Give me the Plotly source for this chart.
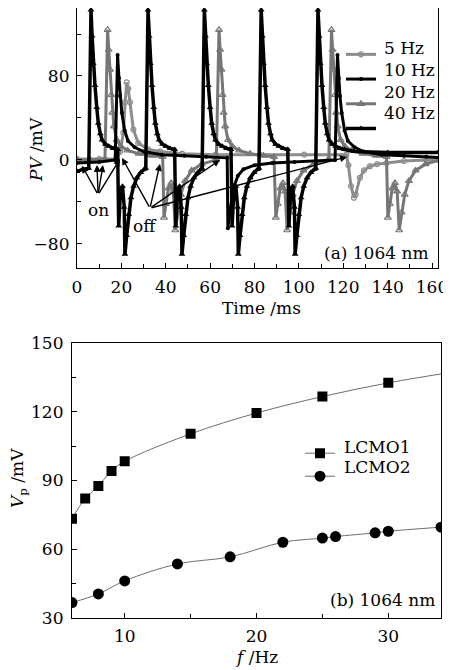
import plotly.graph_objects as go

# ---------------- Panel (a): photovoltage transients ----------------
# 40 Hz
ON40_T = [6.3, 32.0, 57.4, 83.0, 108.6]
OFF40_T = [18.8, 44.5, 69.9, 95.5]
SPIKE40_DT = [-1.0, 0, 0.5, 1.0, 1.8, 2.6, 3.3, 4.2, 5.0, 6.5, 8.0, 10.0, 12.0]
SPIKE40_V = [-8, 143, 118, 92, 71, 50, 35, 25, 19, 15, 13, 11, 10]
DIP40_DT = [0, 0.8, 1.7, 2.5, 2.8, 3.6, 4.5, 5.5, 6.7, 8.2, 9.9, 11.5]
DIP40_V = [-63, -30, -25, -45, -90, -72, -52, -36, -25, -17, -12, -9]
LEAD40_T, LEAD40_V = [0, 2.5], [-11, -9]
TAIL40_T, TAIL40_V = [125, 140, 162.7], [8, 7, 7]

# 20 Hz
ON20_T = [13.8, 64.0, 114.7]
OFF20_T = [39.2, 89.6, 140.1]
SPIKE20_DT = [-1.2, 0, 0.5, 1.1, 1.6, 2.1, 2.8, 4.1, 6.0, 9.0, 14.0, 20.0, 24.8]
SPIKE20_V = [1, 124, 105, 86, 62, 45, 32, 19, 13, 9, 6, 4, 3]
DIP20_DT = [0, 0.9, 2.0, 3.2, 4.2, 5.1, 6.2, 7.6, 9.5, 12.5, 17.0, 23.5]
DIP20_V = [-55, -42, -27, -22, -30, -67, -50, -33, -20, -10, -4, 0]
LEAD20_T, LEAD20_V = [0, 6], [0, 0]
TAIL20_T, TAIL20_V = [], []

# 10 Hz
ON10_T = [18.3, 117.4]
OFF10_T = [68.0]
SPIKE10_DT = [-1.1, 0, 0.6, 1.1, 1.9, 3.2, 4.7, 7.7, 11.7, 20.0, 30.0, 40.0, 49.4]
SPIKE10_V = [0, 100, 78, 61, 45, 28, 18, 12, 8, 5, 4, 3, 2]
DIP10_DT = [0, 0.8, 1.8, 3.0, 4.5, 7.0, 12.0, 20.0, 30.0, 40.0, 48.0]
DIP10_V = [-65, -52, -36, -24, -15, -9, -5, -3, -2, -1, 0]
LEAD10_T, LEAD10_V = [0, 10], [-3, -2]
TAIL10_T, TAIL10_V = [], []

# 5 Hz
ON5_T = [22.4]
OFF5_T = [122.3]
SPIKE5_DT = [-4.5, -2.9, -1.5, -0.7, 0, 0.7, 1.5, 3.0, 5.2, 9.7, 15.0, 25.0, 40.0, 60.0, 80.0, 99.0]
SPIKE5_V = [1, 8, 26, 55, 74, 68, 55, 29, 16, 10, 8, 6, 5, 5, 5, 5]
DIP5_DT = [0, 1.2, 2.5, 3.3, 5.2, 7.0, 9.7, 13.0, 17.2, 25.0, 35.0]
DIP5_V = [-5, -25, -36, -33, -17, -10, -6, -4, -3, -1, 0]
LEAD5_T, LEAD5_V = [0, 10], [1, 1]
TAIL5_T, TAIL5_V = [162.7], [0]

SERIES_A = ["5 Hz", "10 Hz", "20 Hz", "40 Hz"]

# ---------------- Panel (b): peak voltage vs frequency ----------------
F1 = [6, 7, 8, 9, 10, 15, 20, 25, 30, 35]
VP1 = [73.3, 82.1, 87.6, 94.2, 98.4, 110.4, 119.5, 126.7, 132.7, 137.5]
F2 = [6, 8, 10, 14, 18, 22, 25, 26, 29, 30, 34]
VP2 = [36.6, 40.4, 46.1, 53.5, 56.6, 63.0, 64.8, 65.5, 67.1, 67.8, 69.6]
SERIES_B = ["LCMO1", "LCMO2"]


def assemble(lead_t, lead_v, on_t, sp_dt, sp_v, off_t, dp_dt, dp_v, tail_t, tail_v):
    events = [(t, sp_dt, sp_v) for t in on_t] + [(t, dp_dt, dp_v) for t in off_t]
    events.sort(key=lambda e: e[0])
    ts, vs = list(lead_t), list(lead_v)
    for t0, dts, vals in events:
        for dt, v in zip(dts, vals):
            ts.append(round(t0 + dt, 3))
            vs.append(v)
    ts += list(tail_t)
    vs += list(tail_v)
    return ts, vs


t5, v5 = assemble(LEAD5_T, LEAD5_V, ON5_T, SPIKE5_DT, SPIKE5_V, OFF5_T, DIP5_DT, DIP5_V, TAIL5_T, TAIL5_V)
t10, v10 = assemble(LEAD10_T, LEAD10_V, ON10_T, SPIKE10_DT, SPIKE10_V, OFF10_T, DIP10_DT, DIP10_V, TAIL10_T, TAIL10_V)
t20, v20 = assemble(LEAD20_T, LEAD20_V, ON20_T, SPIKE20_DT, SPIKE20_V, OFF20_T, DIP20_DT, DIP20_V, TAIL20_T, TAIL20_V)
t40, v40 = assemble(LEAD40_T, LEAD40_V, ON40_T, SPIKE40_DT, SPIKE40_V, OFF40_T, DIP40_DT, DIP40_V, TAIL40_T, TAIL40_V)

FONT = "DejaVu Serif"
FS = 17
OFF = 8  # the page body has an 8 px default margin
W, H = 451 - OFF, 670 - OFF


def px(x):
    return min(1.0, max(0.0, (x - OFF) / W))


def py(y):
    return min(1.0, max(0.0, 1 - (y - OFF) / H))


fig = go.Figure()

GRAY5 = "#8c8c8c"
GRAY20 = "#767676"
fig.add_trace(go.Scatter(x=t5, y=v5, name=" ", mode="lines+markers", legendrank=1,
                         line=dict(color=GRAY5, width=3),
                         marker=dict(symbol="circle-open", size=5, color=GRAY5, line=dict(width=1.2)),
                         xaxis="x", yaxis="y", legend="legend"))
fig.add_trace(go.Scatter(x=t20, y=v20, name=" ", mode="lines+markers", legendrank=3,
                         line=dict(color=GRAY20, width=3),
                         marker=dict(symbol="triangle-up-open", size=6, color=GRAY20, line=dict(width=1.2)),
                         xaxis="x", yaxis="y", legend="legend"))
fig.add_trace(go.Scatter(x=t10, y=v10, name=" ", mode="lines+markers", legendrank=2,
                         line=dict(color="black", width=3),
                         marker=dict(symbol="circle", size=4, color="black"),
                         xaxis="x", yaxis="y", legend="legend"))
fig.add_trace(go.Scatter(x=t40, y=v40, name=" ", mode="lines+markers", legendrank=4,
                         line=dict(color="black", width=3.5),
                         marker=dict(symbol="triangle-up", size=6, color="black"),
                         xaxis="x", yaxis="y", legend="legend"))

fig.add_trace(go.Scatter(x=F1, y=VP1, name=" ", mode="lines+markers", line_shape="spline",
                         line=dict(color="#6e6e6e", width=1),
                         marker=dict(symbol="square", size=10, color="black"),
                         xaxis="x2", yaxis="y2", legend="legend2"))
fig.add_trace(go.Scatter(x=F2, y=VP2, name=" ", mode="lines+markers", line_shape="spline",
                         line=dict(color="#6e6e6e", width=1),
                         marker=dict(symbol="circle", size=11, color="black"),
                         xaxis="x2", yaxis="y2", legend="legend2"))

axis_common = dict(showline=True, linecolor="black", linewidth=1.2, mirror=True, showgrid=False,
                   zeroline=False, ticks="inside", ticklen=5, tickcolor="black", tickwidth=1.2,
                   automargin=False, tickfont=dict(family=FONT, size=FS, color="black"))

fig.update_layout(
    template="none",
    width=W, height=H, margin=dict(l=0, r=0, t=0, b=0, pad=0),
    paper_bgcolor="white", plot_bgcolor="white",
    font=dict(family=FONT, size=FS, color="black"),
    xaxis=dict(domain=[px(77), px(438)], range=[0, 162.7], anchor="y", tickmode="linear", tick0=0, dtick=20,
               minor=dict(dtick=10, ticks="inside", ticklen=4, tickcolor="black", showgrid=False),
               ticklabelstandoff=3, **axis_common),
    yaxis=dict(domain=[py(268), py(8)], range=[-103, 144.8], anchor="x", tickmode="linear", tick0=0, dtick=80,
               minor=dict(dtick=40, ticks="inside", ticklen=4, tickcolor="black", showgrid=False),
               ticklabelstandoff=3, **axis_common),
    xaxis2=dict(domain=[px(72), px(441)], range=[6, 34], anchor="y2", tickmode="linear", tick0=0, dtick=10,
                minor=dict(dtick=5, ticks="inside", ticklen=4, tickcolor="black", showgrid=False),
                ticklabelstandoff=3, **axis_common),
    yaxis2=dict(domain=[py(617.7), py(343.3)], range=[30, 150], anchor="x2", tickmode="linear", tick0=0, dtick=30,
                minor=dict(dtick=15, ticks="inside", ticklen=4, tickcolor="black", showgrid=False),
                ticklabelstandoff=4, **axis_common),
    legend=dict(x=px(341), y=py(37), xanchor="left", yanchor="top", bgcolor="rgba(0,0,0,0)",
                font=dict(family=FONT, size=16.7), tracegroupgap=0, itemwidth=30),
    legend2=dict(x=px(300), y=py(436.7), xanchor="left", yanchor="top", bgcolor="rgba(0,0,0,0)",
                 font=dict(family=FONT, size=15.4), tracegroupgap=0, itemwidth=30),
)

ann = []
# axis titles
ann.append(dict(text="Time /ms", x=px(261), y=py(308), xref="paper", yref="paper", showarrow=False,
                xanchor="center", yanchor="middle"))
ann.append(dict(text="<i>PV</i> /mV", x=px(36), y=py(150), xref="paper", yref="paper", showarrow=False,
                textangle=-90, xanchor="center", yanchor="middle"))
ann.append(dict(text="<i>f</i> /Hz", x=px(256.7), y=py(656.7), xref="paper", yref="paper",
                showarrow=False, xanchor="center", yanchor="middle"))
ann.append(dict(text="<i>V</i><sub>p</sub> /mV", x=px(18), y=py(478), xref="paper", yref="paper",
                showarrow=False, textangle=-90, xanchor="center", yanchor="middle"))
# panel labels
ann.append(dict(text="(a) 1064 nm", x=px(431), y=py(253), xref="paper", yref="paper", showarrow=False,
                xanchor="right", yanchor="middle"))
ann.append(dict(text="(b) 1064 nm", x=px(436.7), y=py(600), xref="paper", yref="paper", showarrow=False,
                xanchor="right", yanchor="middle"))
# legend texts
for i, name in enumerate(SERIES_A):
    ann.append(dict(text=name, x=px(382), y=py(48.3 + 21.7 * i), xref="paper", yref="paper", showarrow=False,
                    xanchor="left", yanchor="middle"))
for i, name in enumerate(SERIES_B):
    ann.append(dict(text=name, x=px(341.7), y=py(446.7 + 20 * i), xref="paper", yref="paper", showarrow=False,
                    xanchor="left", yanchor="middle"))
# on / off labels
ann.append(dict(text="on", x=9.5, y=-48, xref="x", yref="y", showarrow=False))
ann.append(dict(text="off", x=30.6, y=-63, xref="x", yref="y", showarrow=False))

ON_TIPS = [(2.3, -5.7), (9.0, -4.8), (11.7, -4.8), (19.4, 1.0)]
ON_FROM = (9.5, -33)
OFF_TIPS = [(20.3, 1.9), (37.4, -3.8), (64.4, 0.0), (121.7, 2.9)]
OFF_FROM = (32.9, -46)
for tip in ON_TIPS:
    ann.append(dict(text="", x=tip[0], y=tip[1], ax=ON_FROM[0], ay=ON_FROM[1], xref="x", yref="y",
                    axref="x", ayref="y", showarrow=True, arrowhead=2, arrowsize=1, arrowwidth=1.4,
                    arrowcolor="black"))
for tip in OFF_TIPS:
    ann.append(dict(text="", x=tip[0], y=tip[1], ax=OFF_FROM[0], ay=OFF_FROM[1], xref="x", yref="y",
                    axref="x", ayref="y", showarrow=True, arrowhead=2, arrowsize=1, arrowwidth=1.4,
                    arrowcolor="black"))
fig.update_layout(annotations=ann)

fig.write_html("out.html")
